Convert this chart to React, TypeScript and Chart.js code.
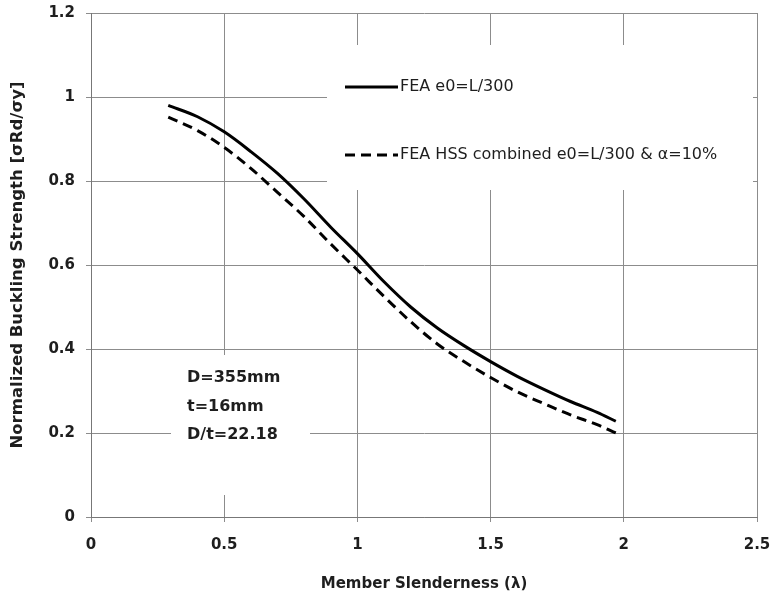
import React, { useEffect, useRef } from "react";
import { Chart, registerables } from "chart.js";

Chart.register(...registerables);

// λ values and normalized strengths
const lambdaSolid = [0.29, 0.4, 0.5, 0.6, 0.7, 0.8, 0.9, 1.0, 1.1, 1.2, 1.3, 1.4, 1.5, 1.6, 1.7, 1.8, 1.9, 1.97];
const strengthSolid = [0.98, 0.953, 0.917, 0.87, 0.818, 0.757, 0.69, 0.627, 0.56, 0.5, 0.45, 0.408, 0.37, 0.335, 0.304, 0.275, 0.249, 0.228];

const lambdaDashed = [0.29, 0.4, 0.5, 0.6, 0.7, 0.8, 0.9, 1.0, 1.1, 1.2, 1.3, 1.4, 1.5, 1.6, 1.7, 1.8, 1.9, 1.97];
const strengthDashed = [0.952, 0.92, 0.88, 0.83, 0.773, 0.715, 0.65, 0.588, 0.525, 0.465, 0.412, 0.37, 0.332, 0.298, 0.27, 0.243, 0.22, 0.2];

const seriesLabels = ["FEA e0=L/300", "FEA HSS combined e0=L/300 & α=10%"];
const annotationLines = ["D=355mm", "t=16mm", "D/t=22.18"];
const xTitle = "Member Slenderness (λ)";
const yTitle = "Normalized Buckling Strength [σRd/σy]";

const FONT = "'DejaVu Sans', sans-serif";
const GRID = "#8c8c8c";
const TEXT = "#1e1e1e";

const fmt = (v: any) => String(Number(Number(v).toFixed(2)));

const overlayPlugin = {
  id: "overlay",
  beforeDatasetsDraw(chart: any) {
    const ctx = chart.ctx;
    ctx.save();
    ctx.fillStyle = "#ffffff";
    // white boxes behind legend and annotation (as in the reference)
    ctx.fillRect(327, 45, 426, 145);
    ctx.fillRect(171, 355, 139, 140);
    ctx.restore();
  },
  afterDatasetsDraw(chart: any) {
    const ctx = chart.ctx;
    ctx.save();
    // legend
    ctx.strokeStyle = "#000";
    ctx.lineWidth = 3;
    ctx.beginPath();
    ctx.moveTo(345, 87);
    ctx.lineTo(398, 87);
    ctx.stroke();
    ctx.setLineDash([10, 6]);
    ctx.beginPath();
    ctx.moveTo(345, 155);
    ctx.lineTo(398, 155);
    ctx.stroke();
    ctx.setLineDash([]);
    ctx.fillStyle = TEXT;
    ctx.font = `16px ${FONT}`;
    ctx.textBaseline = "middle";
    ctx.textAlign = "left";
    ctx.fillText(seriesLabels[0], 400, 87);
    ctx.fillText(seriesLabels[1], 400, 155);
    // annotation
    ctx.font = `bold 16px ${FONT}`;
    const ys = [378, 407, 435];
    annotationLines.forEach((t, i) => ctx.fillText(t, 187, ys[i]));
    ctx.restore();
  },
};

export default function App() {
  const ref = useRef<HTMLCanvasElement>(null);
  useEffect(() => {
    if (!ref.current) return;
    const chart = new Chart(ref.current, {
      type: "line",
      data: {
        datasets: [
          {
            label: seriesLabels[0],
            data: lambdaSolid.map((x, i) => ({ x, y: strengthSolid[i] })),
            borderColor: "#000",
            borderWidth: 3,
            pointRadius: 0,
            cubicInterpolationMode: "monotone",
            fill: false,
          },
          {
            label: seriesLabels[1],
            data: lambdaDashed.map((x, i) => ({ x, y: strengthDashed[i] })),
            borderColor: "#000",
            borderWidth: 3,
            borderDash: [10, 6],
            pointRadius: 0,
            cubicInterpolationMode: "monotone",
            fill: false,
          },
        ],
      },
      options: {
        animation: false,
        responsive: false,
        layout: { padding: { top: 13, right: 14, left: 0, bottom: 0 } },
        plugins: { legend: { display: false }, tooltip: { enabled: false } },
        scales: {
          x: {
            type: "linear",
            min: 0,
            max: 2.5,
            ticks: {
              stepSize: 0.5,
              color: TEXT,
              font: { family: FONT, size: 15, weight: "bold" },
              padding: 14,
              callback: fmt,
            },
            grid: { color: GRID, lineWidth: 1, tickLength: 5 },
            border: { color: "#777", width: 1 },
            title: {
              display: true,
              text: xTitle,
              color: TEXT,
              font: { family: FONT, size: 15, weight: "bold" },
              padding: { top: 0, bottom: 13 },
            },
            afterFit: (s: any) => {
              s.height = 89;
              s.paddingLeft = 0;
              s.paddingRight = 0;
            },
          },
          y: {
            type: "linear",
            min: 0,
            max: 1.2,
            ticks: {
              stepSize: 0.2,
              color: TEXT,
              font: { family: FONT, size: 15, weight: "bold" },
              padding: 11,
              callback: fmt,
            },
            grid: { color: GRID, lineWidth: 1, tickLength: 5 },
            border: { color: "#777", width: 1 },
            title: {
              display: true,
              text: yTitle,
              color: TEXT,
              font: { family: FONT, size: 16.5, weight: "bold" },
              padding: { top: 8, bottom: 0 },
            },
            afterFit: (s: any) => {
              s.width = 91;
              s.paddingTop = 0;
              s.paddingBottom = 0;
            },
          },
        },
      },
      plugins: [overlayPlugin],
    });
    return () => chart.destroy();
  }, []);
  return (
    <canvas
      ref={ref}
      width={771}
      height={606}
      style={{ position: "absolute", left: 0, top: 0, width: 771, height: 606, display: "block", background: "#fff" }}
    />
  );
}
